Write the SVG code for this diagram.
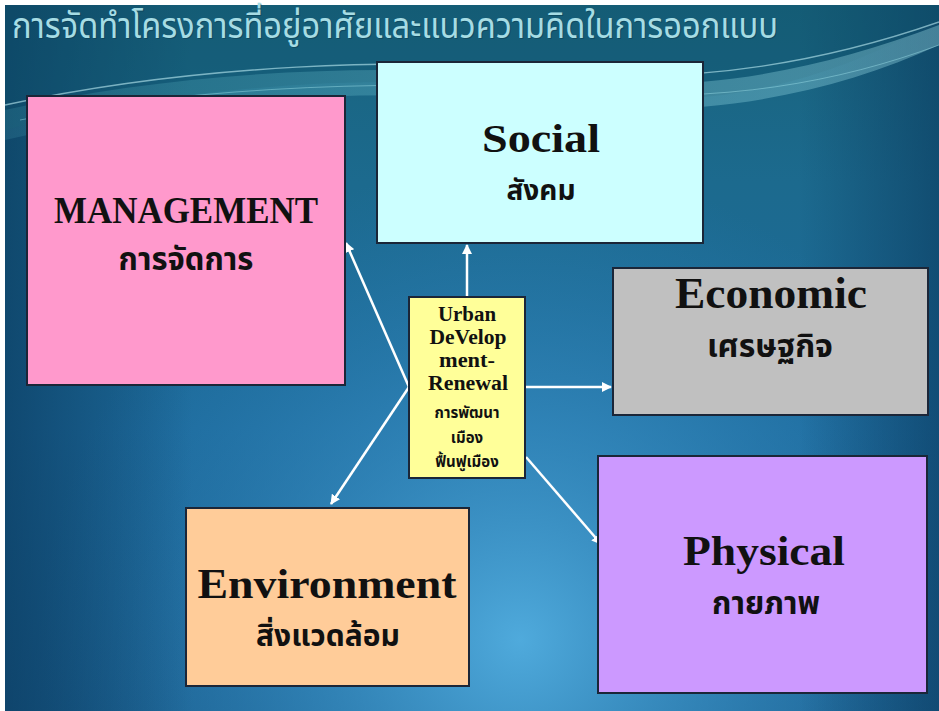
<svg xmlns="http://www.w3.org/2000/svg" width="939" height="711" viewBox="0 0 939 711">
  <defs>
    <linearGradient id="bgBase" x1="0" y1="0" x2="0" y2="1">
      <stop offset="0" stop-color="#18637c"/>
      <stop offset="0.25" stop-color="#1c6a8e"/>
      <stop offset="0.6" stop-color="#1d6a9c"/>
      <stop offset="1" stop-color="#1a5e8e"/>
    </linearGradient>
    <radialGradient id="bgGlow" cx="520" cy="640" r="480" gradientUnits="userSpaceOnUse">
      <stop offset="0" stop-color="#52aee0" stop-opacity="0.95"/>
      <stop offset="0.45" stop-color="#3b93c8" stop-opacity="0.6"/>
      <stop offset="1" stop-color="#2a7fb5" stop-opacity="0"/>
    </radialGradient>
    <linearGradient id="edgeL" x1="0" y1="0" x2="1" y2="0">
      <stop offset="0" stop-color="#0a3a5e" stop-opacity="0.7"/>
      <stop offset="0.2" stop-color="#0a3a5e" stop-opacity="0"/>
      <stop offset="0.85" stop-color="#0a3a5e" stop-opacity="0"/>
      <stop offset="1" stop-color="#0a3a5e" stop-opacity="0.6"/>
    </linearGradient>
    <linearGradient id="waveFill" x1="0" y1="0" x2="1" y2="0">
      <stop offset="0" stop-color="#5ec0cc" stop-opacity="0.15"/>
      <stop offset="0.5" stop-color="#7fd0dc" stop-opacity="0.3"/>
      <stop offset="1" stop-color="#a8e6ee" stop-opacity="0.35"/>
    </linearGradient>
    <marker id="arrow" viewBox="0 0 10 10" refX="9" refY="5" markerWidth="4" markerHeight="4" orient="auto">
      <path d="M0,0 L10,5 L0,10 z" fill="#ffffff"/>
    </marker>
    <style>
      .box { stroke: #1b2638; stroke-width: 2; }
      .en { font-family: "Palatino Linotype", "Book Antiqua", "Liberation Serif", serif; font-weight: bold; fill: #111111; text-anchor: middle; }
      .th { font-family: "Noto Sans Thai", "Noto Serif Thai", "Tlwg Typo", "Loma", "Garuda", "DejaVu Sans", sans-serif; font-weight: bold; fill: #111111; text-anchor: middle; }
      .title { font-family: "Noto Sans Thai", "Loma", "Garuda", "DejaVu Sans", sans-serif; font-size: 35px; }
      .link { stroke: #ffffff; stroke-width: 2.5; fill: none; marker-end: url(#arrow); }
    </style>
  </defs>

  <!-- background -->
  <rect x="0" y="0" width="939" height="711" fill="#ffffff"/>
  <rect x="5" y="5" width="934" height="706" fill="url(#bgBase)"/>
  <rect x="5" y="5" width="934" height="706" fill="url(#bgGlow)"/>
  <rect x="5" y="5" width="934" height="706" fill="url(#edgeL)"/>

  <!-- decorative swooshes behind the title -->
  <g id="waves">
    <path d="M5,130 C200,80 420,70 600,95 C720,110 830,80 939,20 L939,5 L5,5 Z" fill="#0f4f6a" opacity="0.35"/>
    <path d="M5,110 C180,70 400,60 560,80 C700,95 820,70 939,25 L939,45 C830,95 700,120 560,105 C400,85 200,95 5,140 Z" fill="url(#waveFill)"/>
    <path d="M5,105 C190,65 410,55 570,72 C700,85 830,60 939,22" stroke="#bfeff5" stroke-width="1.5" fill="none" opacity="0.6"/>
    <path d="M20,120 C200,85 420,78 580,92 C720,104 840,82 939,45" stroke="#9fe3ea" stroke-width="1" fill="none" opacity="0.45"/>
  </g>

  <!-- title -->
  <g id="title">
    <text class="title" x="13" y="39" fill="#0c3a4c" opacity="0.5" textLength="766" lengthAdjust="spacingAndGlyphs">การจัดทำโครงการที่อยู่อาศัยและแนวความคิดในการออกแบบ</text>
    <text class="title" x="12" y="38" fill="#a6dce4" textLength="766" lengthAdjust="spacingAndGlyphs">การจัดทำโครงการที่อยู่อาศัยและแนวความคิดในการออกแบบ</text>
  </g>

  <!-- connectors -->
  <g id="connectors">
    <line class="link" x1="467" y1="297" x2="467" y2="245"/>
    <line class="link" x1="409" y1="387" x2="346" y2="243"/>
    <line class="link" x1="525" y1="387" x2="611" y2="387"/>
    <line class="link" x1="409" y1="387" x2="331" y2="504"/>
    <line class="link" x1="526" y1="457" x2="601" y2="544"/>
  </g>

  <!-- nodes -->
  <g id="management">
    <rect class="box" x="27" y="96" width="318" height="289" fill="#ff99cc"/>
    <text class="en" x="186" y="223" font-size="37" textLength="264" lengthAdjust="spacingAndGlyphs">MANAGEMENT</text>
    <text class="th" x="186" y="270" font-size="31">การจัดการ</text>
  </g>

  <g id="social">
    <rect class="box" x="377" y="62" width="326" height="181" fill="#ccffff"/>
    <text class="en" x="541" y="152" font-size="40" textLength="118" lengthAdjust="spacingAndGlyphs">Social</text>
    <text class="th" x="541" y="200" font-size="28">สังคม</text>
  </g>

  <g id="economic">
    <rect class="box" x="613" y="268" width="315" height="147" fill="#c0c0c0"/>
    <text class="en" x="771" y="308" font-size="44" textLength="192" lengthAdjust="spacingAndGlyphs">Economic</text>
    <text class="th" x="770" y="357" font-size="32">เศรษฐกิจ</text>
  </g>

  <g id="physical">
    <rect class="box" x="598" y="456" width="329" height="237" fill="#cc99ff"/>
    <text class="en" x="764" y="565" font-size="42" textLength="162" lengthAdjust="spacingAndGlyphs">Physical</text>
    <text class="th" x="766" y="614" font-size="31">กายภาพ</text>
  </g>

  <g id="environment">
    <rect class="box" x="186" y="508" width="283" height="178" fill="#ffcc99"/>
    <text class="en" x="327" y="598" font-size="42" textLength="259" lengthAdjust="spacingAndGlyphs">Environment</text>
    <text class="th" x="328" y="646" font-size="30">สิ่งแวดล้อม</text>
  </g>

  <g id="urban-renewal">
    <rect class="box" x="409" y="297" width="116" height="181" fill="#ffff99"/>
    <text class="en" x="467" y="321" font-size="20" textLength="58" lengthAdjust="spacingAndGlyphs">Urban</text>
    <text class="en" x="468" y="344" font-size="20" textLength="77" lengthAdjust="spacingAndGlyphs">DeVelop</text>
    <text class="en" x="467" y="367" font-size="20" textLength="56" lengthAdjust="spacingAndGlyphs">ment-</text>
    <text class="en" x="468" y="390" font-size="20" textLength="80" lengthAdjust="spacingAndGlyphs">Renewal</text>
    <text class="th" x="467" y="418" font-size="15">การพัฒนา</text>
    <text class="th" x="467" y="443" font-size="15">เมือง</text>
    <text class="th" x="467" y="467" font-size="15">ฟื้นฟูเมือง</text>
  </g>
</svg>
